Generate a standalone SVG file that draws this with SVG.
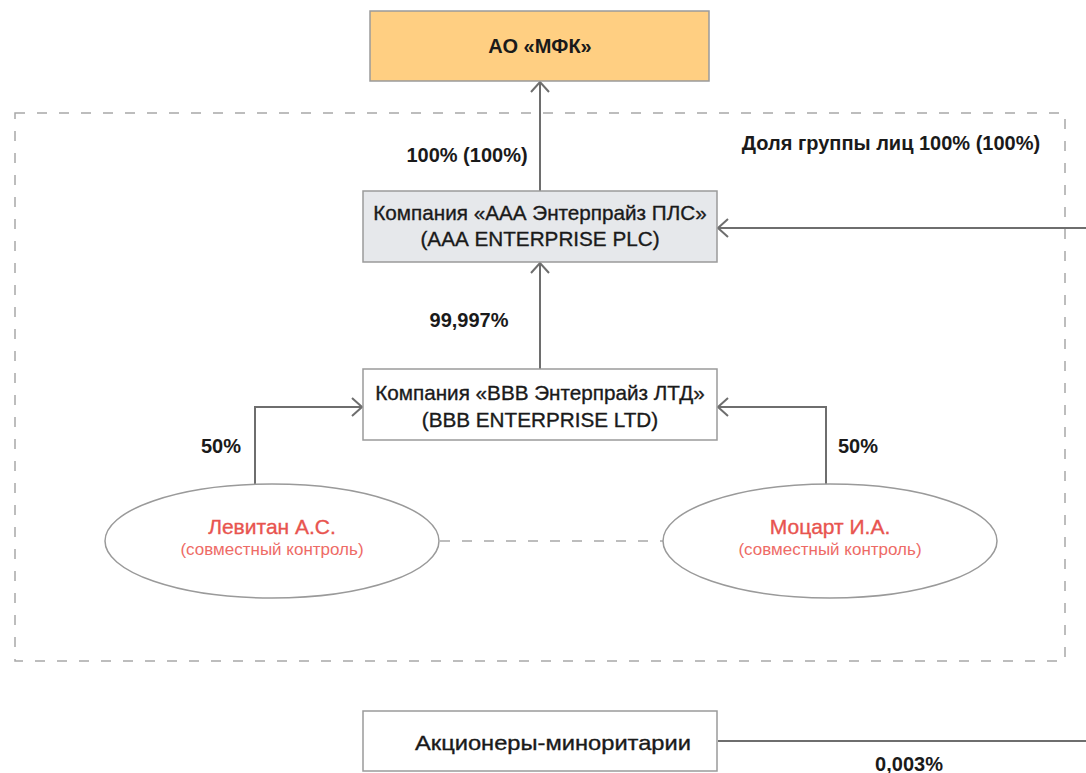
<svg xmlns="http://www.w3.org/2000/svg" width="1086" height="773" viewBox="0 0 1086 773">
<style>
text{font-family:"Liberation Sans",Arial,sans-serif;fill:#1a1a1a;text-anchor:middle}
.box{stroke:#9a9a9a;stroke-width:1.5}
.n{font-size:20.7px;stroke:#1a1a1a;stroke-width:0.35}
.b{font-size:20px;font-weight:bold}
.red{fill:#e8544f;font-size:21px;stroke:#e8544f;stroke-width:0.35}
.reds{fill:#ee6b66;font-size:17px}
.ln{stroke:#6e6e6e;stroke-width:2;fill:none}
.dash{stroke:#a8a8a8;stroke-width:1.5;fill:none;stroke-dasharray:10 12}
</style>
<defs>
<marker id="a" viewBox="0 0 12 20" refX="11" refY="10" markerWidth="12" markerHeight="20" markerUnits="userSpaceOnUse" orient="auto">
<path d="M1,1 L11,10 L1,19" fill="none" stroke="#6e6e6e" stroke-width="2"/>
</marker>
</defs>
<rect class="dash" x="15" y="113" width="1050" height="548"/>
<g id="connectors">
<line class="ln" x1="540" y1="191" x2="540" y2="82" marker-end="url(#a)"/>
<line class="ln" x1="540" y1="369" x2="540" y2="263" marker-end="url(#a)"/>
<polyline class="ln" points="255,484 255,407 362,407" marker-end="url(#a)"/>
<polyline class="ln" points="826,484 826,407 718,407" marker-end="url(#a)"/>
<line class="ln" x1="1090" y1="228" x2="718" y2="228" marker-end="url(#a)"/>
<line class="ln" x1="718" y1="741" x2="1090" y2="741"/>
<line class="dash" x1="440" y1="541" x2="663" y2="541"/>
</g>
<g id="mfk">
<rect class="box" x="370" y="11" width="339" height="70" fill="#ffcf82"/>
<text class="b" x="540" y="53">АО «МФК»</text>
</g>
<g id="aaa">
<rect class="box" x="363" y="191" width="354" height="71" fill="#e6e8eb"/>
<text class="n" x="540" y="220">Компания «ААА Энтерпрайз ПЛС»</text>
<text class="n" x="540" y="246">(ААА ENTERPRISE PLC)</text>
</g>
<g id="bbb">
<rect class="box" x="363" y="369" width="354" height="71" fill="#ffffff"/>
<text class="n" x="540" y="400">Компания «BBB Энтерпрайз ЛТД»</text>
<text class="n" x="540" y="427">(BBB ENTERPRISE LTD)</text>
</g>
<g id="levitan">
<ellipse class="box" cx="272" cy="541" rx="167" ry="57" fill="#ffffff"/>
<text class="red" x="272" y="534">Левитан А.С.</text>
<text class="reds" x="272" y="555">(совместный контроль)</text>
</g>
<g id="mozart">
<ellipse class="box" cx="830" cy="541" rx="167" ry="57" fill="#ffffff"/>
<text class="red" x="830" y="534">Моцарт И.А.</text>
<text class="reds" x="830" y="555">(совместный контроль)</text>
</g>
<g id="minority">
<rect class="box" x="363" y="711" width="354" height="60" fill="#ffffff"/>
<text class="n" x="553" y="750" textLength="276" lengthAdjust="spacingAndGlyphs" font-size="21">Акционеры-миноритарии</text>
</g>
<g id="labels">
<text class="b" x="467" y="162">100% (100%)</text>
<text class="b" x="891" y="150">Доля группы лиц 100% (100%)</text>
<text class="b" x="469" y="327">99,997%</text>
<text class="b" x="221" y="453">50%</text>
<text class="b" x="858" y="453">50%</text>
<text class="b" x="909" y="771">0,003%</text>
</g>
</svg>
